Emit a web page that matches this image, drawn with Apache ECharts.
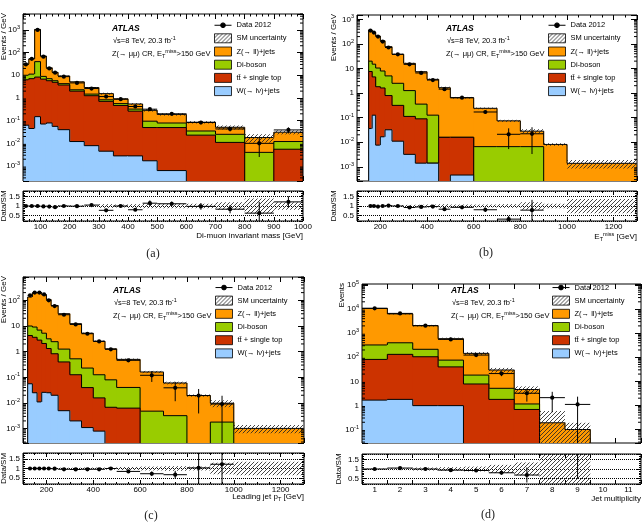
<!DOCTYPE html>
<html>
<head>
<meta charset="utf-8">
<script src="https://cdn.jsdelivr.net/npm/echarts@6.0.0/dist/echarts.min.js"></script>
<style>
html,body{margin:0;padding:0;background:#ffffff;}
#chart{width:644px;height:528px;}
</style>
</head>
<body>
<div id="chart"></div>
<script>
// ================= DATA =================
// (a) Di-muon invariant mass [GeV], Events / GeV
const aEdges    = [40,60,80,100,120,140,160,200,250,300,350,400,450,500,600,700,800,900,1000];
const aWjets    = [0.063,0.045,0.15,0.071,0.079,0.056,0.04,0.012,0.0079,0.0045,0.0028,0.0028,0.0017,0.00063,0,0,0,0];
const aTop      = [6.25,7.04,8.17,6.69,5.67,4.84,3.68,1.99,1.25,0.705,0.465,0.26,0.048,0.049,0.023,0.011,0,0.0055];
const aDiboson  = [3.69,4.14,31.5,2.15,1.33,0.85,0.55,0.29,0.22,0.12,0.095,0.06,0.045,0.029,0.012,0.014,0.004,0.0065];
const aZjets    = [21.6,41.3,1007,61.9,14.3,7.75,5.06,2.84,1.4,0.72,0.35,0.22,0.19,0.11,0.05,0.026,0.014,0.019];
const aData     = [30,53,1000,66,20,13,8.7,4.6,2.6,1.15,0.88,0.42,0.32,0.2,0.083,0.043,0.01,0.039];
const aDataErr  = [0.03,0.02,0.01,0.02,0.03,0.04,0.03,0.04,0.05,0.07,0.08,0.1,0.12,0.12,0.18,0.22,0.75,0.3];
const aRatio    = [1.0,1.0,1.0,0.98,0.97,0.94,1.0,0.99,1.05,0.77,1.0,0.8,1.15,1.12,0.98,0.83,0.62,1.22];
const aRatioErr = [0.02,0.02,0.01,0.02,0.03,0.03,0.03,0.03,0.04,0.05,0.06,0.07,0.15,0.12,0.18,0.22,0.6,0.3];
const aUnc      = [0.03,0.03,0.03,0.03,0.03,0.04,0.04,0.04,0.05,0.1,0.08,0.1,0.12,0.12,0.12,0.2,0.4,0.2];

// (b) E_T^miss [GeV], Events / GeV
const bEdges    = [150,165,180,200,220,250,300,350,400,450,500,600,700,800,900,1000,1300];
const bWjets    = [0.036,0.126,0.0076,0.0166,0.032,0.011,0.0032,0.0014,0.0014,0,0.00046,0,0,0,0,0];
const bTop      = [7.55,4.44,1.81,1.6,0.762,0.305,0.109,0.088,0,0.0158,0.0154,0,0,0,0,0];
const bDiboson  = [12.4,10.5,8.67,6.32,4.22,2.19,1.15,0.266,0.125,0,0,0.0066,0.0066,0.0066,0,0];
const bZjets    = [351.6,280,198.5,127,72.6,35.5,14.96,7.06,3.5,1.64,0.63,0.233,0.0675,0.0216,0.0081,0.00138];
const bData     = [350,290,200,125,72,38,14.8,6.6,3.4,1.45,0.65,0.17,0.021,0.022,0,0];
const bDataErr  = [0.01,0.01,0.01,0.02,0.02,0.02,0.03,0.04,0.05,0.06,0.06,0.15,0.75,0.85,0,0];
const bRatio    = [1.0,1.0,0.97,1.0,1.02,1.0,0.92,0.95,0.97,0.83,0.93,0.8,0.3,0.78,null,null];
const bRatioErr = [0.01,0.01,0.01,0.02,0.02,0.02,0.03,0.04,0.04,0.05,0.05,0.12,0.17,0.55,0,0];
const bUnc      = [0.04,0.04,0.04,0.04,0.05,0.05,0.06,0.07,0.08,0.1,0.08,0.08,0.1,0.2,0.12,0.38];

// (c) Leading jet pT [GeV], Events / GeV
const cEdges    = [120,140,160,180,200,220,250,300,350,400,450,500,600,700,800,900,1000,1300];
const cWjets    = [0.056,0.025,0.011,0.026,0.025,0.02,0.005,0.002,0.0011,0.0008,0,0,0,0,0,0,0];
const cTop      = [4.21,3.6,2.81,2.06,1.3,0.81,0.393,0.124,0.0387,0.015,0.0068,0.0063,0,0,0,0,0];
const cDiboson  = [5.73,5.49,4.1,3.16,1.84,1.62,0.86,0.4,0.19,0.11,0.073,0.034,0.0048,0.0032,0,0.0018,0];
const cZjets    = [124.9,185.9,192.6,160.8,104,60.7,28.9,11.8,5.02,2.44,1.21,0.46,0.157,0.057,0.0195,0.008,0.00102];
const cData     = [158,200,200,170,100,60,27.5,11.5,5.0,2.5,1.23,0.46,0.12,0.039,0.0195,0.0091,0];
const cDataErr  = [0.01,0.01,0.01,0.01,0.01,0.02,0.02,0.03,0.04,0.05,0.07,0.1,0.45,0.7,0.8,1.1,0];
const cRatio    = [1.0,1.0,1.0,1.0,1.0,0.99,0.96,0.95,0.96,0.96,1.0,0.85,0.73,0.68,1.03,1.22,null];
const cRatioErr = [0.01,0.01,0.01,0.01,0.01,0.02,0.02,0.03,0.04,0.04,0.05,0.07,0.12,0.2,1.5,1.5,0];
const cUnc      = [0.03,0.03,0.03,0.03,0.03,0.03,0.04,0.04,0.05,0.05,0.06,0.08,0.1,0.12,0.1,0.3,0.35];

// (d) Jet multiplicity, Events
const dCats     = ['1','2','3','4','5','6','7','8','9','10','11'];
const dWjets    = [1.66,1.78,0.98,0.98,0,0,0,0,0,0,0];
const dTop      = [79.6,130,103.7,38.8,7.76,1.78,0.68,0,0,0,0];
const dDiboson  = [242,266,109,36.1,10.4,3.35,0.47,0,0,0,0];
const dZjets    = [10391,5912,1828,513,126.3,24.4,3.42,0.19,0.1,0,0];
const dData     = [10700,6600,2050,550,123,21,3.2,2.1,1.1,0,0];
const dDataErr  = [0.01,0.012,0.02,0.04,0.09,0.22,0.55,0.75,1.1,0,0];
const dRatio    = [1.0,1.05,1.0,0.94,0.92,0.8,0.68,null,10,null,null];
const dRatioErr = [0.01,0.01,0.02,0.04,0.08,0.1,0.4,0,9.5,0,0];
const dUnc      = [0.03,0.06,0.08,0.1,0.13,0.22,0.35,2.1,0.9,0,0];

// tick-label text
const ratioTickLabels = {'0.5':'0.5','1':'1','1.5':'1.5'};
const logMinorMultipliers = [2,3,4,5,6,7,8,9];

// ================= STYLE / LAYOUT =================
const FONT  = '"Liberation Sans", Arial, Helvetica, sans-serif';
const SERIF = '"Liberation Serif", "DejaVu Serif", serif';
const COL = { Z:'#ff9900', VV:'#99cc00', TOP:'#cc3300', W:'#99ccff' };
const NAME = { data:'Data 2012', unc:'SM uncertainty', Z:'Z(→ ll)+jets', VV:'Di-boson', TOP:'tt\u0304 + single top', W:'W(→ lν)+jets' };

const hatchCanvas = document.createElement('canvas');
hatchCanvas.width = 4; hatchCanvas.height = 4;
(function(){
  const g = hatchCanvas.getContext('2d');
  g.strokeStyle = '#262626'; g.lineWidth = 0.85;
  g.beginPath();
  g.moveTo(0,4); g.lineTo(4,0);
  g.moveTo(-1,1); g.lineTo(1,-1);
  g.moveTo(3,5); g.lineTo(5,3);
  g.stroke();
})();
const HATCH = { image: hatchCanvas, repeat: 'repeat' };

const panels = [
  { edges:aEdges, cats:null, W:aWjets, TOP:aTop, VV:aDiboson, Z:aZjets, data:aData, derr:aDataErr, ratio:aRatio, rerr:aRatioErr, unc:aUnc,
    main:{left:23, top:14, width:280, height:167}, rat:{left:23, top:191, width:280, height:30},
    xmin:40, xmax:1000, xsplit:10, xstep:100, xminor:5, ylog:[-3.66, 3.7],
    ytitle:'Events / GeV', ytx:4, rtx:4, xtitle:'Di-muon invariant mass [GeV]', xtPos:[303,236],
    leg:{left:214, top:20.5}, txt:[112, 29], cap:{t:'(a)', x:153, y:253.5} },
  { edges:bEdges, cats:null, W:bWjets, TOP:bTop, VV:bDiboson, Z:bZjets, data:bData, derr:bDataErr, ratio:bRatio, rerr:bRatioErr, unc:bUnc,
    main:{left:357, top:15, width:280, height:166}, rat:{left:357, top:191, width:280, height:30},
    xmin:100, xmax:1300, xsplit:6, xstep:200, xminor:4, ylog:[-3.58, 3.18],
    ytitle:'Events / GeV', ytx:334, rtx:334, xtitle:'E{sub|T}{sup|miss} [GeV]', xtPos:[637,237],
    leg:{left:548, top:20.5}, txt:[446, 29], cap:{t:'(b)', x:486, y:253} },
  { edges:cEdges, cats:null, W:cWjets, TOP:cTop, VV:cDiboson, Z:cZjets, data:cData, derr:cDataErr, ratio:cRatio, rerr:cRatioErr, unc:cUnc,
    main:{left:23, top:277, width:281, height:166}, rat:{left:23, top:453, width:281, height:31},
    xmin:100, xmax:1300, xsplit:6, xstep:200, xminor:4, ylog:[-3.56, 2.91],
    ytitle:'Events / GeV', ytx:4, rtx:4, xtitle:'Leading jet p{sub|T} [GeV]', xtPos:[304,497],
    leg:{left:215, top:282.8}, txt:[113, 291], cap:{t:'(c)', x:151, y:516} },
  { edges:null, cats:dCats, W:dWjets, TOP:dTop, VV:dDiboson, Z:dZjets, data:dData, derr:dDataErr, ratio:dRatio, rerr:dRatioErr, unc:dUnc,
    main:{left:362, top:284, width:279, height:159}, rat:{left:362, top:454, width:279, height:30},
    ylog:[-1.56, 5.04],
    ytitle:'Events', ytx:341.5, rtx:339, xtitle:'Jet multiplicity', xtPos:[641,499],
    leg:{left:552, top:282.8}, txt:[451, 291], cap:{t:'(d)', x:488, y:515} }
];

// ================= HELPERS =================
const richSS = {
  b:{fontSize:8, fontFamily:FONT, color:'#000', lineHeight:11},
  s:{fontSize:5.5, fontFamily:FONT, color:'#000', lineHeight:6, verticalAlign:'top'},
  sub:{fontSize:5.5, fontFamily:FONT, fill:'#000', color:'#000', lineHeight:6, verticalAlign:'bottom'},
  sup:{fontSize:5.5, fontFamily:FONT, fill:'#000', color:'#000', lineHeight:6, verticalAlign:'top'}
};
function logLabel(v){
  const l = Math.log10(v); const n = Math.round(l);
  if (Math.abs(l - n) > 1e-6) return '';
  if (n === 0) return '1';
  if (n === 1) return '10';
  return '{b|10}{s|' + n + '}';
}
function ratioLabel(v){
  const k = String(Math.round(v*10)/10);
  return Math.abs(v*10 - Math.round(v*10)) < 1e-6 && ratioTickLabels[k] ? ratioTickLabels[k] : '';
}
const tickStyle = {color:'#000', width:1};

function xAxisCfg(P, gi, pos, showLabels, len){
  const base = { gridIndex:gi, position:pos, axisLine:{show:false}, splitLine:{show:false},
    axisTick:{show:true, inside:true, length:len, lineStyle:tickStyle},
    axisLabel:{show:showLabels, margin:2, fontSize:8, fontFamily:FONT, color:'#000'} };
  if (P.cats){
    base.type = 'category'; base.data = P.cats; base.boundaryGap = true;
    base.axisLabel.interval = 0;
    return base;
  }
  base.type = 'value'; base.min = P.xmin; base.max = P.xmax; base.splitNumber = P.xsplit;
  base.minorTick = {show:true, splitNumber:P.xminor, length:len*0.5, lineStyle:tickStyle};
  base.axisLabel.formatter = v => (Math.abs(v/P.xstep - Math.round(v/P.xstep)) < 1e-9 && v > P.xmin && v <= P.xmax) ? String(v) : '';
  return base;
}
function yLogCfg(P, gi, pos, showLabels){
  return { type:'log', logBase:10, gridIndex:gi, position:pos,
    min:Math.pow(10, P.ylog[0]), max:Math.pow(10, P.ylog[1]),
    axisLine:{show:false}, splitLine:{show:false},
    axisTick:{show:true, inside:true, length:6, lineStyle:tickStyle},
    axisLabel:{show:showLabels, margin:3, fontSize:8, fontFamily:FONT, color:'#000', formatter:logLabel, rich:richSS} };
}
function yRatioCfg(gi, pos, showLabels){
  return { type:'value', gridIndex:gi, position:pos, min:0.2, max:1.8, splitNumber:3,
    axisLine:{show:false},
    splitLine:{show:showLabels, lineStyle:{type:'dotted', color:'#000', width:1}},
    axisTick:{show:true, inside:true, length:4, lineStyle:tickStyle},
    minorTick:{show:true, splitNumber:5, length:2, lineStyle:tickStyle},
    axisLabel:{show:showLabels, margin:3, fontSize:8, fontFamily:FONT, color:'#000', formatter:ratioLabel} };
}

function xCenter(P, i){ return P.cats ? i : (P.edges[i] + P.edges[i+1]) / 2; }
function binPx(P, api, i, yref){
  if (P.cats){
    const c = api.coord([i, yref])[0];
    const w = api.size([1, 1])[0];
    return [c - w/2, c + w/2, c];
  }
  const a = api.coord([P.edges[i], yref])[0];
  const b = api.coord([P.edges[i+1], yref])[0];
  return [a, b, (a + b) / 2];
}

function stackSeries(P, key, cum, xi, yi){
  const ymin = Math.pow(10, P.ylog[0]);
  return { type:'custom', name:NAME[key], xAxisIndex:xi, yAxisIndex:yi, clip:true, silent:true,
    itemStyle:{color:COL[key]}, encode:{x:0, y:1},
    data: cum.map((v, i) => [xCenter(P, i), v]),
    renderItem: function(params, api){
      const i = params.dataIndex;
      const top = api.value(1);
      const prev = i > 0 ? cum[i-1] : 0;
      const last = i === cum.length - 1;
      const px = binPx(P, api, i, ymin);
      const xc = xCenter(P, i);
      const yb = api.coord([xc, ymin])[1];
      const below = yb + 40;
      const yt = top > 0 ? api.coord([xc, top])[1] : below;
      const yp = prev > 0 ? api.coord([xc, prev])[1] : below;
      const ch = [];
      if (top > 0) ch.push({type:'rect', shape:{x:px[0] - 0.5, y:yt, width:px[1]-px[0] + 1, height:below-yt}, style:{fill:COL[key]}});
      const pts = [[px[0], yp], [px[0], yt], [px[1], yt]];
      if (last) pts.push([px[1], below]);
      ch.push({type:'polyline', shape:{points:pts}, style:{stroke:'#000', lineWidth:1, fill:null}});
      return {type:'group', children:ch};
    } };
}

function bandSeries(P, xi, yi, lo, hi, isLog){
  const yref = isLog ? Math.pow(10, P.ylog[0]) : 0.2;
  return { type:'custom', name:NAME.unc, xAxisIndex:xi, yAxisIndex:yi, clip:true, silent:true,
    itemStyle:{color:HATCH}, encode:{x:0, y:1},
    data: lo.map((v, i) => [xCenter(P, i), hi[i], v]),
    renderItem: function(params, api){
      const i = params.dataIndex;
      const h = api.value(1), l = api.value(2);
      if (!(h > 0) || !(h > l)) return null;
      const px = binPx(P, api, i, yref);
      const xc = xCenter(P, i);
      const yb = api.coord([xc, yref])[1];
      const yh = api.coord([xc, h])[1];
      const yl = (isLog && !(l > 0)) ? yb + 40 : api.coord([xc, l])[1];
      return {type:'rect', shape:{x:px[0], y:yh, width:px[1]-px[0], height:yl-yh}, style:{fill:HATCH}};
    } };
}

function dataSeries(P, xi, yi, vals, errs, isLog){
  const yref = isLog ? Math.pow(10, P.ylog[0]) : 0.2;
  return { type:'custom', name:NAME.data, xAxisIndex:xi, yAxisIndex:yi, clip:true, silent:true,
    itemStyle:{color:'#000'}, encode:{x:0, y:1},
    data: vals.map((v, i) => [xCenter(P, i), v, errs[i]]),
    renderItem: function(params, api){
      const i = params.dataIndex;
      const v = api.value(1), e = api.value(2);
      if (!(v > 0)) return null;
      const px = binPx(P, api, i, yref);
      const xc = xCenter(P, i);
      const yb = api.coord([xc, yref])[1];
      const y = api.coord([xc, v])[1];
      let yl, yh;
      if (isLog){
        const lo = v * (1 - e), hi = v * (1 + e);
        yl = lo > 0 ? api.coord([xc, lo])[1] : yb + 40;
        yh = api.coord([xc, hi])[1];
      } else {
        yl = api.coord([xc, v - e])[1];
        yh = api.coord([xc, v + e])[1];
      }
      return {type:'group', children:[
        {type:'line', shape:{x1:px[2], y1:yl, x2:px[2], y2:yh}, style:{stroke:'#000', lineWidth:1}},
        {type:'line', shape:{x1:px[0], y1:y, x2:px[1], y2:y}, style:{stroke:'#000', lineWidth:1}},
        {type:'circle', shape:{cx:px[2], cy:y, r:2.1}, style:{fill:'#000'}}
      ]};
    } };
}

// minor log ticks (2..9 x 10^n) on both vertical frame edges, placed through the y scale
function logMinorTickSeries(P, xi, yi){
  const vals = [];
  for (let n = Math.floor(P.ylog[0]); n <= Math.ceil(P.ylog[1]); n++){
    logMinorMultipliers.forEach(m => {
      const v = m * Math.pow(10, n);
      const l = Math.log10(v);
      if (l > P.ylog[0] && l < P.ylog[1]) vals.push(v);
    });
  }
  return { type:'custom', xAxisIndex:xi, yAxisIndex:yi, clip:false, silent:true, z:5,
    encode:{x:0, y:1}, tooltip:{show:false},
    data: vals.map(v => [xCenter(P, 0), v]),
    renderItem: function(params, api){
      const cs = params.coordSys;
      const y = api.coord([api.value(0), api.value(1)])[1];
      return {type:'group', children:[
        {type:'line', shape:{x1:cs.x, y1:y, x2:cs.x + 3, y2:y}, style:{stroke:'#000', lineWidth:1}},
        {type:'line', shape:{x1:cs.x + cs.width - 3, y1:y, x2:cs.x + cs.width, y2:y}, style:{stroke:'#000', lineWidth:1}}
      ]};
    } };
}

const DATA_ICON = 'path://M0,0M18,9M0,4.5L18,4.5M11.5,4.5A2.5,2.5,0,1,1,6.5,4.5A2.5,2.5,0,1,1,11.5,4.5Z';

// ================= BUILD OPTION =================
const grids = [], xAxes = [], yAxes = [], series = [], legends = [], graphics = [];
const textBase = {fontFamily:FONT, fill:'#000'};

panels.forEach(P => {
  const gm = grids.length;
  grids.push(Object.assign({show:true, borderColor:'#000', borderWidth:1, backgroundColor:'transparent', containLabel:false}, P.main));
  const gr = grids.length;
  grids.push(Object.assign({show:true, borderColor:'#000', borderWidth:1, backgroundColor:'transparent', containLabel:false}, P.rat));

  const xm = xAxes.length; xAxes.push(xAxisCfg(P, gm, 'bottom', false, 5)); xAxes.push(xAxisCfg(P, gm, 'top', false, 5));
  const xr = xAxes.length; xAxes.push(xAxisCfg(P, gr, 'bottom', true, 4)); xAxes.push(xAxisCfg(P, gr, 'top', false, 4));
  const ym = yAxes.length; yAxes.push(yLogCfg(P, gm, 'left', true)); yAxes.push(yLogCfg(P, gm, 'right', false));
  const yr = yAxes.length; yAxes.push(yRatioCfg(gr, 'left', true)); yAxes.push(yRatioCfg(gr, 'right', false));

  // cumulative stack (bottom to top: W, top, di-boson, Z)
  const cW = [], cT = [], cV = [], cZ = [];
  P.Z.forEach((z, i) => {
    const w = P.W[i], t = w + P.TOP[i], v = t + P.VV[i];
    cW.push(w); cT.push(t); cV.push(v); cZ.push(v + z);
  });
  series.push(stackSeries(P, 'Z', cZ, xm, ym));
  series.push(stackSeries(P, 'VV', cV, xm, ym));
  series.push(stackSeries(P, 'TOP', cT, xm, ym));
  series.push(stackSeries(P, 'W', cW, xm, ym));
  series.push(bandSeries(P, xm, ym, cZ.map((t, i) => t * (1 - P.unc[i])), cZ.map((t, i) => t * (1 + P.unc[i])), true));
  series.push(dataSeries(P, xm, ym, P.data, P.derr, true));
  series.push(logMinorTickSeries(P, xm, ym));
  series.push(bandSeries(P, xr, yr, P.unc.map((u, i) => cZ[i] > 0 ? 1 - u : 0), P.unc.map((u, i) => cZ[i] > 0 ? 1 + u : 0), false));
  series.push(dataSeries(P, xr, yr, P.ratio, P.rerr, false));

  legends.push({
    orient:'vertical', left:P.leg.left, top:P.leg.top, padding:0,
    itemWidth:17, itemHeight:9, itemGap:3.4, selectedMode:false,
    textStyle:{fontSize:7.5, fontFamily:FONT, color:'#000', lineHeight:9},
    itemStyle:{borderColor:'#000', borderWidth:0.8},
    data:[
      {name:NAME.data, icon:DATA_ICON, itemStyle:{color:'#000', borderColor:'#000', borderWidth:1}},
      {name:NAME.unc, icon:'rect', itemStyle:{color:HATCH}},
      {name:NAME.Z, icon:'rect', itemStyle:{color:COL.Z}},
      {name:NAME.VV, icon:'rect', itemStyle:{color:COL.VV}},
      {name:NAME.TOP, icon:'rect', itemStyle:{color:COL.TOP}},
      {name:NAME.W, icon:'rect', itemStyle:{color:COL.W}}
    ]
  });

  const tx = P.txt[0], ty = P.txt[1];
  graphics.push({type:'text', x:tx, y:ty, silent:true, style:Object.assign({}, textBase, {text:'ATLAS', fontSize:8.5, fontWeight:'bold', fontStyle:'italic', verticalAlign:'middle'})});
  graphics.push({type:'text', x:tx + 1, y:ty + 12, silent:true, style:Object.assign({}, textBase, {text:'√s=8 TeV, 20.3 fb{sup|-1}', fontSize:7.5, lineHeight:11, verticalAlign:'middle', rich:richSS})});
  graphics.push({type:'text', x:tx, y:ty + 24.5, silent:true, style:Object.assign({}, textBase, {text:'Z(→ μμ) CR, E{sub|T}{sup|miss}>150 GeV', fontSize:7.5, lineHeight:11, verticalAlign:'middle', rich:richSS})});
  // axis titles
  graphics.push({type:'text', x:P.ytx, y:P.main.top - 1, rotation:Math.PI/2, silent:true, style:Object.assign({}, textBase, {text:P.ytitle, fontSize:8, align:'right', verticalAlign:'middle'})});
  graphics.push({type:'text', x:P.rtx, y:P.rat.top + P.rat.height/2, rotation:Math.PI/2, silent:true, style:Object.assign({}, textBase, {text:'Data/SM', fontSize:8, align:'center', verticalAlign:'middle'})});
  graphics.push({type:'text', x:P.xtPos[0], y:P.xtPos[1], silent:true, style:Object.assign({}, textBase, {text:P.xtitle, fontSize:8, lineHeight:11, align:'right', verticalAlign:'middle', rich:richSS})});
  graphics.push({type:'text', x:P.cap.x, y:P.cap.y, silent:true, style:{text:P.cap.t, fontFamily:SERIF, fontSize:12, fill:'#222', align:'center', verticalAlign:'middle'}});
});

const chart = echarts.init(document.getElementById('chart'), null, {renderer:'canvas'});
chart.setOption({
  animation:false,
  backgroundColor:'#ffffff',
  grid:grids, xAxis:xAxes, yAxis:yAxes, series:series, legend:legends,
  graphic:{elements:graphics}
});
</script>
</body>
</html>
